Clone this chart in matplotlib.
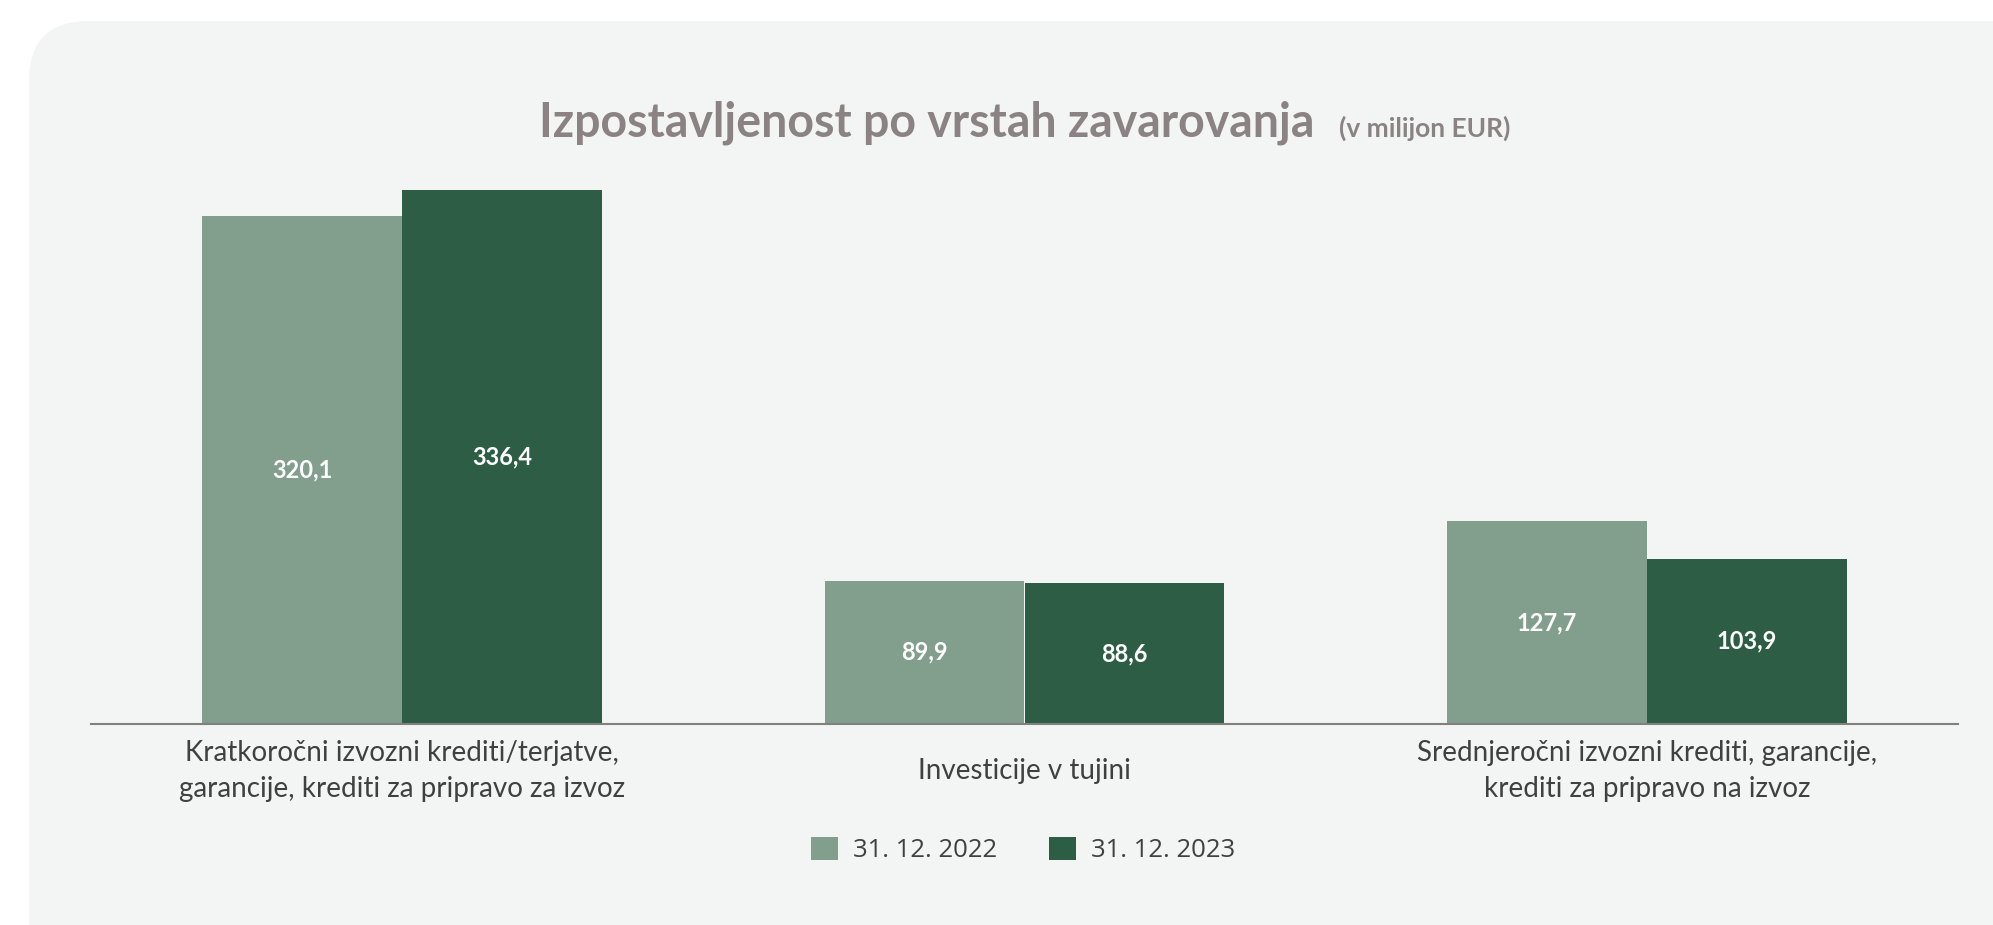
import matplotlib
matplotlib.use("Agg")
import matplotlib.pyplot as plt
import numpy as np
from matplotlib.patches import FancyBboxPatch, Patch
from matplotlib.offsetbox import TextArea, HPacker, AnnotationBbox

# ---- data ----
categories = [
    "Kratkoročni izvozni krediti/terjatve,\ngarancije, krediti za pripravo za izvoz",
    "Investicije v tujini",
    "Srednjeročni izvozni krediti, garancije,\nkrediti za pripravo na izvoz",
]
series_names = ["31. 12. 2022", "31. 12. 2023"]
values_2022 = [320.1, 89.9, 127.7]
values_2023 = [336.4, 88.6, 103.9]

title = "Izpostavljenost po vrstah zavarovanja"
subtitle = "(v milijon EUR)"

# ---- style ----
LIGHT = "#829e8d"
DARK = "#2d5e45"
PANEL = "#f3f5f4"
TITLE_C = "#8b8284"
TEXT_C = "#404040"
FONT = ["Lato", "DejaVu Sans"]

W, H, DPI = 1993, 925, 100
fig = plt.figure(figsize=(W / DPI, H / DPI), dpi=DPI)
fig.patch.set_facecolor("white")

# rounded background panel running off the right / bottom edge
panel = FancyBboxPatch((29 / W, -0.1), 1.2, 1.1 - 21 / H,
                       boxstyle="round,pad=0,rounding_size=0.03",
                       transform=fig.transFigure, facecolor=PANEL,
                       edgecolor="none", mutation_aspect=W / H, zorder=-5)
fig.patches.append(panel)

ymax = 350
base_px = 723.7
px_per_unit = 1.586
ax_h = ymax * px_per_unit
ax = fig.add_axes([91 / W, (H - base_px) / H, (1958 - 91) / W, ax_h / H])
ax.set_facecolor("none")

x = np.arange(len(categories))
bw = 200 / 622.5
b1 = ax.bar(x - bw / 2, values_2022, bw, color=LIGHT, zorder=2)
b2 = ax.bar(x + bw / 2, values_2023, bw, color=DARK, zorder=2)

for bars, vals in [(b1, values_2022), (b2, values_2023)]:
    for rect, v in zip(bars, vals):
        ax.text(rect.get_x() + rect.get_width() / 2, v / 2,
                f"{v:.1f}".replace(".", ","), ha="center", va="center",
                color="white", fontsize=17, fontweight="bold", family=FONT)

ax.set_xlim(-0.5, 2.5)
ax.set_ylim(0, ymax)
for s in ["top", "right", "left"]:
    ax.spines[s].set_visible(False)
ax.spines["bottom"].set_color("#808080")
ax.spines["bottom"].set_linewidth(1.5)
ax.set_yticks([])
ax.set_xticks([])

# category labels, vertically centred below the axis
for xi, lab in zip(x, categories):
    ax.annotate(lab, xy=(xi, 0), xycoords=("data", "axes fraction"),
                xytext=(0, -34), textcoords="offset points",
                ha="center", va="center", fontsize=20, fontweight="normal",
                color=TEXT_C, family=FONT, linespacing=1.45)

# title + smaller subtitle on one baseline
ta1 = TextArea(title, textprops=dict(fontsize=33.5, fontweight="bold",
                                     color=TITLE_C, family=FONT))
ta2 = TextArea(subtitle, textprops=dict(fontsize=19, fontweight="bold",
                                        color=TITLE_C, family=FONT))
pack = HPacker(children=[ta1, ta2], align="baseline", pad=0, sep=18)
ab = AnnotationBbox(pack, (1024.5 / W, 1 - 123 / H), xycoords="figure fraction",
                    box_alignment=(0.5, 0.5), frameon=False)
fig.add_artist(ab)

handles = [Patch(facecolor=LIGHT, label=series_names[0]),
           Patch(facecolor=DARK, label=series_names[1])]
leg = fig.legend(handles=handles, loc="center", bbox_to_anchor=(1023 / W, 1 - 850 / H),
                 ncol=2, frameon=False, handlelength=1.05,
                 handleheight=1.05, handletextpad=0.6, columnspacing=2.0,
                 prop=dict(family=["Open Sans", "DejaVu Sans"], size=18.5))
for t in leg.get_texts():
    t.set_color(TEXT_C)

fig.savefig("out.png", dpi=DPI, facecolor=fig.get_facecolor())
